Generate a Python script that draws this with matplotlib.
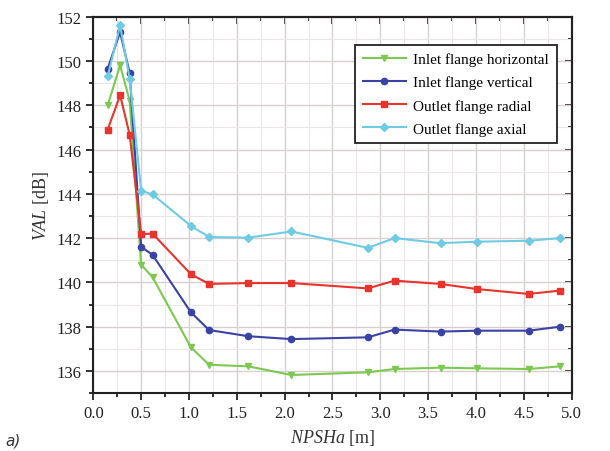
import numpy as np
import matplotlib as mpl
mpl.use('Agg')
import matplotlib.pyplot as plt
from matplotlib.ticker import MultipleLocator

npsha = [0.15, 0.28, 0.38, 0.50, 0.62, 1.02, 1.21, 1.62, 2.07, 2.87, 3.15, 3.63, 4.01, 4.55, 4.88]

inlet_horizontal = [148.0, 149.8, 148.2, 140.8, 140.23, 137.07, 136.28, 136.21, 135.82, 135.94,
                    136.09, 136.15, 136.12, 136.09, 136.21]
inlet_vertical = [149.65, 151.3, 149.45, 141.61, 141.24, 138.65, 137.85, 137.57, 137.44, 137.52,
                  137.87, 137.78, 137.82, 137.82, 138.0]
outlet_radial = [146.9, 148.45, 146.67, 142.18, 142.2, 140.37, 139.93, 139.97, 139.97, 139.73,
                 140.08, 139.93, 139.7, 139.48, 139.63]
outlet_axial = [149.3, 151.6, 149.2, 144.14, 143.97, 142.55, 142.05, 142.02, 142.3, 141.56,
                142.0, 141.77, 141.84, 141.88, 142.0]

series = [
    ("Inlet flange horizontal", inlet_horizontal, "#7dc850", "v"),
    ("Inlet flange vertical", inlet_vertical, "#3a43a3", "o"),
    ("Outlet flange radial", outlet_radial, "#e8342c", "s"),
    ("Outlet flange axial", outlet_axial, "#6fcbe3", "D"),
]

plt.rcParams['font.family'] = ['Liberation Serif', 'DejaVu Serif']
plt.rcParams['mathtext.fontset'] = 'custom'
plt.rcParams['mathtext.rm'] = 'Liberation Serif'
plt.rcParams['mathtext.it'] = 'Liberation Serif:italic'

fig = plt.figure(figsize=(6.10, 4.52), dpi=100)
ax = fig.add_axes([0.153, 0.128, 0.784, 0.833])

for name, vals, col, mk in series:
    ax.plot(npsha, vals, color=col, marker=mk, ms=4.5 if mk != "D" else 3.8,
            lw=1.5, label=name, zorder=3)

ax.set_xlim(0, 5.0)
ax.set_ylim(135, 152)
ax.xaxis.set_major_locator(MultipleLocator(0.5))
ax.xaxis.set_minor_locator(MultipleLocator(0.25))
ax.yaxis.set_major_locator(MultipleLocator(2))
ax.yaxis.set_minor_locator(MultipleLocator(1))
ax.xaxis.set_major_formatter(mpl.ticker.FormatStrFormatter('%.1f'))

ax.grid(which='major', color='#d8cfcf', lw=1.0, zorder=0)
ax.grid(which='minor', color='#ebe6e6', lw=0.8, zorder=0)

for sp in ax.spines.values():
    sp.set_linewidth(1.5)
    sp.set_color('#222222')

# left/bottom ticks outward, top/right inward (done with secondary axes)
ax.tick_params(which='both', direction='out', width=1.3, labelsize=12, colors='#222222')
ax.tick_params(which='major', length=5)
ax.tick_params(which='minor', length=3)

top = ax.secondary_xaxis('top')
top.xaxis.set_major_locator(MultipleLocator(0.5))
top.xaxis.set_minor_locator(MultipleLocator(0.25))
top.tick_params(which='both', direction='in', width=1.3, labeltop=False, colors='#222222')
top.tick_params(which='major', length=5)
top.tick_params(which='minor', length=3)
top.spines['top'].set_linewidth(1.5)
right = ax.secondary_yaxis('right')
right.yaxis.set_major_locator(MultipleLocator(2))
right.yaxis.set_minor_locator(MultipleLocator(1))
right.tick_params(which='both', direction='in', width=1.3, labelright=False, colors='#222222')
right.tick_params(which='major', length=5)
right.tick_params(which='minor', length=3)
right.spines['right'].set_linewidth(1.5)

ax.set_xlabel(r"$\mathit{NPSHa}$ [m]", fontsize=13, color='#333333')
ax.set_ylabel(r"$\mathit{VAL}$ [dB]", fontsize=13, color='#333333')

leg = ax.legend(loc='upper right', bbox_to_anchor=(0.985, 0.946), fontsize=11, fancybox=False,
                framealpha=1, edgecolor='#222222', handlelength=2.8, borderpad=0.5,
                labelspacing=0.62, handletextpad=0.5)
leg.get_frame().set_linewidth(1.3)

fig.text(0.008, 0.015, "a)", fontsize=11, style='italic', family='DejaVu Sans', color='#333333')

plt.savefig("out.png", dpi=100)
